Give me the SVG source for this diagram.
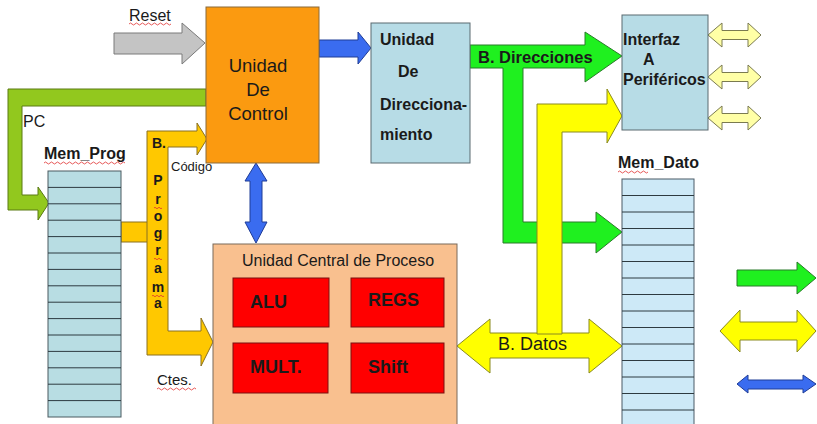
<svg xmlns="http://www.w3.org/2000/svg" width="817" height="424" viewBox="0 0 817 424">
<style>
.t{font-family:"Liberation Sans",Arial,sans-serif;fill:#1a1a1a}
.b{font-weight:bold}
.mp{fill:#b8dde3;stroke:#4a5a60;stroke-width:1}
.md{fill:#cde9f7;stroke:#4a5a66;stroke-width:1}
.row{stroke:#2d3a40;stroke-width:1}
.red{fill:#ff0000;stroke:#7a1010;stroke-width:1}
.sq{fill:none;stroke:#e03030;stroke-width:0.8}
.grn{fill:#1ff01f;stroke:#2a7a2a;stroke-width:1}
.yel{fill:#ffff00;stroke:#8a8a20;stroke-width:1}
.gold{fill:#ffc800;stroke:#8a7020;stroke-width:1}
.blue{fill:#3a6cf0;stroke:#1f3c96;stroke-width:1}
.lyel{fill:#ffffa6;stroke:#7a7a50;stroke-width:1}
</style>
<rect width="817" height="424" fill="#ffffff"/>

<g id="connectors">
  <!-- Reset -->
  <polygon points="114,33 182,33 182,23 205,43 182,64 182,54 114,54" fill="#c4c4c4" stroke="#7a7a7a"/>
  <!-- PC -->
  <polygon points="206,89 8,89 8,210 38,210 38,220 49,203 38,187 38,195 22,195 22,106 206,106" fill="#92c81e" stroke="#5a7a12"/>
  <!-- Mem_Prog to bus -->
  <rect x="121" y="222" width="27" height="20" class="gold"/>
  <!-- B. Programa -->
  <polygon points="147,355 147,131 197,131 197,123 207,139 197,155 197,147 168,147 168,331 201,331 201,318 213,342 201,366 201,355" class="gold"/>
  <!-- control to direccionamiento -->
  <polygon points="319,40 358,40 358,32 371,48 358,64 358,57 319,57" class="blue"/>
  <!-- control <-> CPU -->
  <polygon points="256,163 267,181 262,181 262,222 267,222 256,243 245,222 250,222 250,181 245,181" class="blue"/>
  <!-- B. Direcciones -->
  <polygon points="470,45 585,45 585,32 622,56 585,82 585,68 523,68 523,222 596,222 596,212 622,232 596,253 596,243 503,243 503,68 470,68" class="grn"/>
  <!-- B. Datos -->
  <polygon points="457,346 490,319 490,333 589,333 589,319 622,346 589,373 589,358 490,358 490,373" class="yel"/>
  <polygon points="537,334 537,104 607,104 607,89 622,116 607,143 607,132 562,132 562,334" class="yel"/>
  <!-- periph arrows -->
  <polygon points="708,35 722,23 722,30.5 748,30.5 748,23 761,35 748,47 748,39.5 722,39.5 722,47" class="lyel"/>
  <polygon points="708,77 722,65 722,72.5 748,72.5 748,65 761,77 748,89 748,81.5 722,81.5 722,89" class="lyel"/>
  <polygon points="708,118 722,106 722,113.5 748,113.5 748,106 761,118 748,130 748,122.5 722,122.5 722,130" class="lyel"/>
  <!-- legend -->
  <polygon points="737,270 797,270 797,262 816,278 797,294 797,286 737,286" class="grn"/>
  <polygon points="720,331 740,310 740,322 797,322 797,310 816,331 797,352 797,340 740,340 740,352" class="yel"/>
  <polygon points="737,384 748,375 748,380 803,380 803,375 816,384 803,393 803,389 748,389 748,393" class="blue"/>
</g>

<g id="labels">
  <text x="129" y="21" class="t" font-size="16">Reset</text>
  <path d="M129,24 q1.5,-2 3,0 t3,0 t3,0 t3,0 t3,0 t3,0 t3,0 t3,0 t3,0 t3,0 t3,0 t3,0 t3,0 t3,0" class="sq"/>
  <text x="23" y="127" class="t" font-size="16">PC</text>
  <text x="171" y="171" class="t" font-size="13">Código</text>
  <text x="157" y="385" class="t" font-size="15">Ctes.</text>
  <path d="M157,389 q1.5,-2 3,0 t3,0 t3,0 t3,0 t3,0 t3,0 t3,0 t3,0 t3,0 t3,0 t3,0 t3,0 t3,0" class="sq"/>
  <g class="t b" font-size="14" text-anchor="middle">
    <text x="159" y="148">B.</text>
    <text x="158" y="185">P</text>
    <text x="158" y="204">r</text>
    <text x="158" y="221">o</text>
    <text x="158" y="238">g</text>
    <text x="158" y="255">r</text>
    <text x="158" y="273">a</text>
    <text x="158" y="292">m</text>
    <text x="158" y="308">a</text>
  </g>
  <path d="M154,208 q1,-1.5 2,0 t2,0 t2,0 t2,0" class="sq"/>
  <path d="M154,259 q1,-1.5 2,0 t2,0 t2,0 t2,0" class="sq"/>
  <path d="M152,296 q1,-1.5 2,0 t2,0 t2,0 t2,0 t2,0 t2,0" class="sq"/>
  <text x="478" y="63" class="t b" font-size="16.5" fill="#10203a">B. Direcciones</text>
  <text x="498" y="350" class="t" font-size="18">B. Datos</text>
</g>

<g id="mem_prog">
  <text x="44" y="159" class="t b" font-size="16">Mem_Prog</text>
  <path d="M44,163 q1.5,-2 3,0 t3,0 t3,0 t3,0 t3,0 t3,0 t3,0 t3,0 t3,0 t3,0 t3,0 t3,0 t3,0 t3,0 t3,0 t3,0 t3,0 t3,0 t3,0 t3,0 t3,0 t3,0 t3,0 t3,0 t3,0 t3,0 t3,0" class="sq"/>
  <rect x="48" y="171" width="73" height="246" class="mp"/>
  <path class="row" d="M48,187.4H121M48,203.8H121M48,220.2H121M48,236.6H121M48,253H121M48,269.4H121M48,285.8H121M48,302.2H121M48,318.6H121M48,335H121M48,351.4H121M48,367.8H121M48,384.2H121M48,400.6H121"/>
</g>

<g id="unidad_control">
  <rect x="206" y="7" width="113" height="156" fill="#fb9a10" stroke="#8a6a3a"/>
  <g class="t" font-size="18.5" text-anchor="middle" fill="#2a2a2a">
    <text x="258" y="72">Unidad</text>
    <text x="258" y="96">De</text>
    <text x="258" y="120">Control</text>
  </g>
</g>

<g id="unidad_direccionamiento">
  <rect x="371" y="23" width="99" height="140" fill="#b7dce6" stroke="#5a6a70"/>
  <g class="t b" font-size="16">
    <text x="380" y="45">Unidad</text>
    <text x="398" y="77">De</text>
    <text x="380" y="110">Direcciona-</text>
    <text x="380" y="140">miento</text>
  </g>
</g>

<g id="interfaz">
  <rect x="622" y="15" width="86" height="115" fill="#b7dce6" stroke="#5a6a70"/>
  <g class="t b" font-size="16">
    <text x="623" y="45">Interfaz</text>
    <text x="643" y="65">A</text>
    <text x="623" y="85">Periféricos</text>
  </g>
</g>

<g id="mem_dato">
  <text x="618" y="168" class="t b" font-size="16">Mem_Dato</text>
  <path d="M618,172 q1.5,-2 3,0 t3,0 t3,0 t3,0 t3,0 t3,0 t3,0 t3,0 t3,0 t3,0" class="sq"/>
  <rect x="622" y="179" width="72" height="260" class="md"/>
  <path class="row" d="M622,195.5H694M622,212H694M622,228.5H694M622,245H694M622,261.5H694M622,278H694M622,294.5H694M622,311H694M622,327.5H694M622,344H694M622,360.5H694M622,377H694M622,393.5H694M622,410H694"/>
</g>

<g id="cpu">
  <rect x="213" y="244" width="244" height="200" fill="#f9c08f" stroke="#7a6a5a"/>
  <text x="242" y="266" class="t" font-size="16" fill="#2a2a2a">Unidad Central de Proceso</text>
  <g id="alu"><rect x="233" y="278" width="96" height="49" class="red"/><text x="250" y="308" class="t b" font-size="18" fill="#000">ALU</text></g>
  <g id="regs"><rect x="351" y="278" width="93" height="49" class="red"/><text x="368" y="306" class="t b" font-size="18" fill="#000">REGS</text></g>
  <g id="mult"><rect x="233" y="343" width="95" height="50" class="red"/><text x="250" y="373" class="t b" font-size="18" fill="#000">MULT.</text></g>
  <g id="shift"><rect x="351" y="343" width="93" height="50" class="red"/><text x="368" y="373" class="t b" font-size="18" fill="#000">Shift</text></g>
</g>
</svg>
